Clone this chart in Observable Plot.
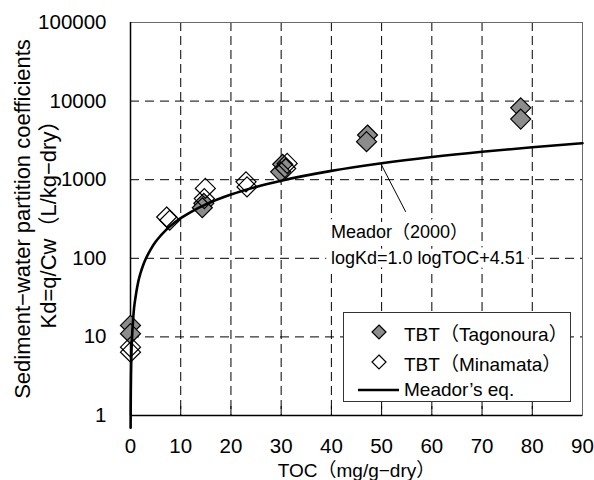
<!DOCTYPE html>
<html><head><meta charset="utf-8">
<script src="https://cdn.jsdelivr.net/npm/d3@7"></script>
<script src="https://cdn.jsdelivr.net/npm/@observablehq/plot@0.6"></script>
<style>
body{margin:0;background:#fff;}
#wrap{position:relative;width:594px;height:480px;font-family:"Liberation Sans","Noto Sans CJK JP",sans-serif;color:#000;}
#legend{position:absolute;left:343px;top:312px;width:228px;height:90px;border:1px solid #333;background:#fff;box-sizing:border-box;}
.item{position:absolute;left:0;height:28px;display:flex;align-items:center;font-size:19px;white-space:nowrap;}
.item svg{display:block;}
</style></head>
<body><div id="wrap"></div>
<script>
// ---- data ----
const seriesNames = ["TBT（Tagonoura）", "TBT（Minamata）", "Meador’s eq."];
const tagonouraTOC = [0, 0, 14.6, 14.3, 30.3, 29.9, 47.2, 47.0, 77.7, 77.7];
const tagonouraKd  = [14, 11, 500, 440, 1570, 1260, 3700, 3050, 8200, 5900];
const minamataTOC  = [0, 0, 7.2, 7.8, 14.9, 14.7, 23.0, 23.2, 31.2, 30.9];
const minamataKd   = [7.4, 6.4, 335, 305, 775, 575, 940, 810, 1610, 1390];
const meadorTOC = [0.022, 0.031, 0.06, 0.1, 0.2, 0.3, 0.5, 0.7, 1, 1.5, 2, 2.5, 3, 4, 5, 6, 7, 8, 10, 12, 15, 20, 25, 30, 40, 50, 60, 70, 80, 90];
const meadorKd  = [0.7, 1.0, 1.9, 3.2, 6.5, 9.7, 16, 23, 32, 49, 65, 81, 97, 129, 162, 194, 227, 259, 324, 388, 485, 647, 809, 971, 1294, 1618, 1942, 2265, 2589, 2912];
const xTicks = [0, 10, 20, 30, 40, 50, 60, 70, 80, 90];
const yTicks = [1, 10, 100, 1000, 10000, 100000];
const xLabel = "TOC（mg/g−dry）";
const yLabel1 = "Sediment−water partition coefficients";
const yLabel2 = "Kd=q/Cw（L/kg−dry）";
const annotationText = "Meador（2000）\nlogKd=1.0 logTOC+4.51";
const annotationAt = {TOC: 39.9, Kd: 157};
const pointerFrom = {TOC: 49.8, Kd: 1618};
const pointerTo = {TOC: 54.8, Kd: 390};

// ---- tables ----
const tag = tagonouraTOC.map((x, i) => ({x, y: tagonouraKd[i]}));
const mina = minamataTOC.map((x, i) => ({x, y: minamataKd[i]}));
const meador = meadorTOC.map((x, i) => ({x, y: meadorKd[i]}));

const diamond = {
  draw(ctx, size) {
    const r = Math.sqrt(size / Math.PI);
    ctx.moveTo(0, -r); ctx.lineTo(r, 0); ctx.lineTo(0, r); ctx.lineTo(-r, 0); ctx.closePath();
  }
};

const font = '"Liberation Sans","Noto Sans CJK JP",sans-serif';
const chart = Plot.plot({
  width: 594, height: 480,
  marginLeft: 130, marginRight: 12, marginTop: 22, marginBottom: 65,
  style: {fontFamily: font, fontSize: "19px", background: "transparent", color: "black"},
  x: {domain: [0, 90]},
  y: {type: "log", domain: [1, 100000]},
  marks: [
    Plot.gridX({ticks: xTicks.slice(1, -1), stroke: "black", strokeOpacity: 1, strokeDasharray: "9,5"}),
    Plot.gridY({ticks: yTicks.slice(1, -1), stroke: "black", strokeOpacity: 1, strokeDasharray: "9,6"}),
    Plot.frame({stroke: "#6a6a6a"}),
    Plot.ruleX(xTicks.slice(1, -1), {x: d => d, insetTop: 384, stroke: "black"}),
    Plot.ruleX([0], {stroke: "black", strokeWidth: 1.5}),
    Plot.ruleY([1], {stroke: "black", strokeWidth: 1.5}),
    Plot.axisX({ticks: xTicks, tickSize: 0, tickPadding: 23, label: null, fontSize: 20.5}),
    Plot.axisY({ticks: yTicks, tickSize: 0, tickPadding: 24, label: null, fontSize: 20.5, tickFormat: d => String(d)}),
    Plot.dot(tag, {x: "x", y: "y", symbol: diamond, r: 10, fill: "#8c8c8c", stroke: "black", strokeWidth: 1.2}),
    Plot.dot(mina, {x: "x", y: "y", symbol: diamond, r: 10, fill: "none", stroke: "black", strokeWidth: 1.2}),
    Plot.line(meador, {x: "x", y: "y", stroke: "black", strokeWidth: 2.6, curve: "monotone-x"}),
    Plot.link([0], {x1: () => pointerFrom.TOC, y1: () => pointerFrom.Kd, x2: () => pointerTo.TOC, y2: () => pointerTo.Kd, stroke: "black", strokeWidth: 1}),
    Plot.text([annotationText], {x: () => annotationAt.TOC, y: () => annotationAt.Kd, text: d => d, textAnchor: "start", lineAnchor: "middle", lineHeight: 1.45, fontSize: 18, fill: "black", stroke: "white", strokeWidth: 12}),
    Plot.text([yLabel1], {text: d => d, frameAnchor: "left", textAnchor: "middle", rotate: -90, dx: -108, fontSize: 22, fill: "black"}),
    Plot.text([yLabel2], {text: d => d, frameAnchor: "left", textAnchor: "middle", rotate: -90, dx: -82, fontSize: 22, fill: "black"}),
    Plot.text([xLabel], {text: d => d, frameAnchor: "bottom", lineAnchor: "top", dy: 48, fontSize: 19, fill: "black"})
  ]
});
const wrap = document.getElementById("wrap");
wrap.appendChild(chart);

// legend
const legend = document.createElement("div");
legend.id = "legend";
const rows = [
  {name: seriesNames[0], kind: "dot", fill: "#8c8c8c", top: 5},
  {name: seriesNames[1], kind: "dot", fill: "#fff", top: 35},
  {name: seriesNames[2], kind: "line", top: 63}
];
for (const r of rows) {
  const it = document.createElement("div");
  it.className = "item";
  it.style.top = r.top + "px";
  const sym = r.kind === "dot"
    ? `<svg width="60" height="28"><path d="M35,7 L42,14 L35,21 L28,14 Z" fill="${r.fill}" stroke="black" stroke-width="1.2"/></svg>`
    : `<svg width="60" height="28"><line x1="14" x2="55" y1="14" y2="14" stroke="black" stroke-width="2.6"/></svg>`;
  it.innerHTML = sym + `<span>${r.name}</span>`;
  legend.appendChild(it);
}
wrap.appendChild(legend);
</script>
</body></html>
